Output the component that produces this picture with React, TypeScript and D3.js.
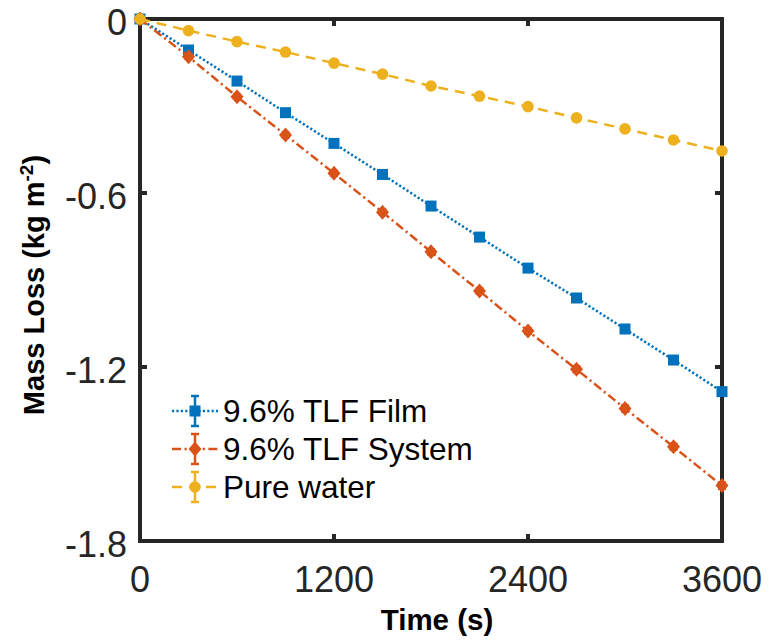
import React from "react";
import * as d3 from "d3";

const times = [0, 300, 600, 900, 1200, 1500, 1800, 2100, 2400, 2700, 3000, 3300, 3600];
const filmLoss = [0, -0.107, -0.214, -0.323, -0.429, -0.536, -0.645, -0.752, -0.859, -0.962, -1.069, -1.176, -1.285];
const systemLoss = [0, -0.13, -0.268, -0.4, -0.532, -0.666, -0.803, -0.938, -1.076, -1.208, -1.343, -1.475, -1.609];
const waterLoss = [0, -0.04, -0.078, -0.114, -0.152, -0.19, -0.231, -0.266, -0.302, -0.341, -0.379, -0.417, -0.455];
const filmErr = [0, 0.004, 0.004, 0.005, 0.005, 0.005, 0.005, 0.006, 0.006, 0.006, 0.006, 0.006, 0.007];
const systemErr = [0, 0.008, 0.008, 0.009, 0.009, 0.009, 0.01, 0.01, 0.01, 0.011, 0.011, 0.011, 0.012];
const waterErr = [0, 0.004, 0.004, 0.004, 0.004, 0.004, 0.004, 0.005, 0.005, 0.005, 0.005, 0.005, 0.005];
const xTicks = [0, 1200, 2400, 3600];
const yTicks = [0, -0.6, -1.2, -1.8];
const yTickLabels = ["0", "-0.6", "-1.2", "-1.8"];
const seriesNames = ["9.6% TLF Film", "9.6% TLF System", "Pure water"];

const W = 769, H = 641;
const L = 140, R = 722, T = 19, B = 541;
const axisColor = "#262626";
const font = "'Liberation Sans', Arial, Helvetica, sans-serif";

const x = d3.scaleLinear().domain([0, 3600]).range([L, R]);
const y = d3.scaleLinear().domain([-1.8, 0]).range([B, T]);

type S = { name: string; vals: number[]; err: number[]; color: string; dash: string; marker: string };
const series: S[] = [
  { name: seriesNames[0], vals: filmLoss, err: filmErr, color: "#0072BD", dash: "2.2 2.2", marker: "square" },
  { name: seriesNames[1], vals: systemLoss, err: systemErr, color: "#D95319", dash: "9 3.5 2.2 3.5", marker: "diamond" },
  { name: seriesNames[2], vals: waterLoss, err: waterErr, color: "#EDB120", dash: "10 7", marker: "circle" },
];

function Marker({ kind, cx, cy, color }: { kind: string; cx: number; cy: number; color: string }) {
  if (kind === "square") return <rect x={cx - 5.5} y={cy - 5.5} width={11} height={11} fill={color} />;
  if (kind === "diamond")
    return <path d={`M${cx},${cy - 7.5}L${cx + 6.5},${cy}L${cx},${cy + 7.5}L${cx - 6.5},${cy}Z`} fill={color} />;
  return <circle cx={cx} cy={cy} r={5.8} fill={color} />;
}

export default function App() {
  const line = d3.line<[number, number]>().x((d) => x(d[0])).y((d) => y(d[1]));
  const legendY = [411, 449, 487];
  return (
    <svg width={W} height={H} style={{ position: "absolute", left: 0, top: 0, background: "#fff" }}>
      <rect x={0} y={0} width={W} height={H} fill="#fff" />
      <rect x={L} y={T} width={R - L} height={B - T} fill="none" stroke={axisColor} strokeWidth={4} />
      {xTicks.map((t) => (
        <g key={"xt" + t}>
          <line x1={x(t)} x2={x(t)} y1={B} y2={B - 7} stroke={axisColor} strokeWidth={4} />
          <line x1={x(t)} x2={x(t)} y1={T} y2={T + 7} stroke={axisColor} strokeWidth={4} />
          <text x={x(t)} y={592} textAnchor="middle" fontFamily={font} fontSize={36} fill={axisColor}>
            {t}
          </text>
        </g>
      ))}
      {yTicks.map((t, i) => (
        <g key={"yt" + t}>
          <line x1={L} x2={L + 7} y1={y(t)} y2={y(t)} stroke={axisColor} strokeWidth={4} />
          <line x1={R} x2={R - 7} y1={y(t)} y2={y(t)} stroke={axisColor} strokeWidth={4} />
          <text x={127} y={y(t) + 16} textAnchor="end" fontFamily={font} fontSize={36} fill={axisColor}>
            {yTickLabels[i]}
          </text>
        </g>
      ))}
      <text x={437} y={630} textAnchor="middle" fontFamily={font} fontSize={29.5} fontWeight="bold" fill="#000">
        Time (s)
      </text>
      <text
        transform={`translate(44,285) rotate(-90)`}
        textAnchor="middle"
        fontFamily={font}
        fontSize={29}
        fontWeight="bold"
        fill="#000"
      >
        Mass Loss (kg m
        <tspan dy={-11} fontSize={19}>-2</tspan>
        <tspan dy={11}>)</tspan>
      </text>
      {series.map((s) => (
        <g key={s.name}>
          <path
            d={line(times.map((t, i) => [t, s.vals[i]]) as [number, number][]) || ""}
            fill="none"
            stroke={s.color}
            strokeWidth={2.5}
            strokeDasharray={s.dash}
          />
          {times.map((t, i) => (
            <g key={i}>
              <line x1={x(t)} x2={x(t)} y1={y(s.vals[i] - s.err[i])} y2={y(s.vals[i] + s.err[i])} stroke={s.color} strokeWidth={2} />
              <line x1={x(t) - 4} x2={x(t) + 4} y1={y(s.vals[i] - s.err[i])} y2={y(s.vals[i] - s.err[i])} stroke={s.color} strokeWidth={2} />
              <line x1={x(t) - 4} x2={x(t) + 4} y1={y(s.vals[i] + s.err[i])} y2={y(s.vals[i] + s.err[i])} stroke={s.color} strokeWidth={2} />
              <Marker kind={s.marker} cx={x(t)} cy={y(s.vals[i])} color={s.color} />
            </g>
          ))}
        </g>
      ))}
      {series.map((s, i) => {
        const ly = legendY[i];
        const cx = 195;
        return (
          <g key={"lg" + s.name}>
            <line x1={172} x2={218} y1={ly} y2={ly} stroke={s.color} strokeWidth={2.5} strokeDasharray={s.dash} />
            <line x1={cx} x2={cx} y1={ly - 15} y2={ly + 15} stroke={s.color} strokeWidth={2.5} />
            <line x1={cx - 4} x2={cx + 4} y1={ly - 15} y2={ly - 15} stroke={s.color} strokeWidth={2.5} />
            <line x1={cx - 4} x2={cx + 4} y1={ly + 15} y2={ly + 15} stroke={s.color} strokeWidth={2.5} />
            <Marker kind={s.marker} cx={cx} cy={ly} color={s.color} />
            <text x={223} y={ly + 11} fontFamily={font} fontSize={31.5} fill="#000">
              {s.name}
            </text>
          </g>
        );
      })}
    </svg>
  );
}
